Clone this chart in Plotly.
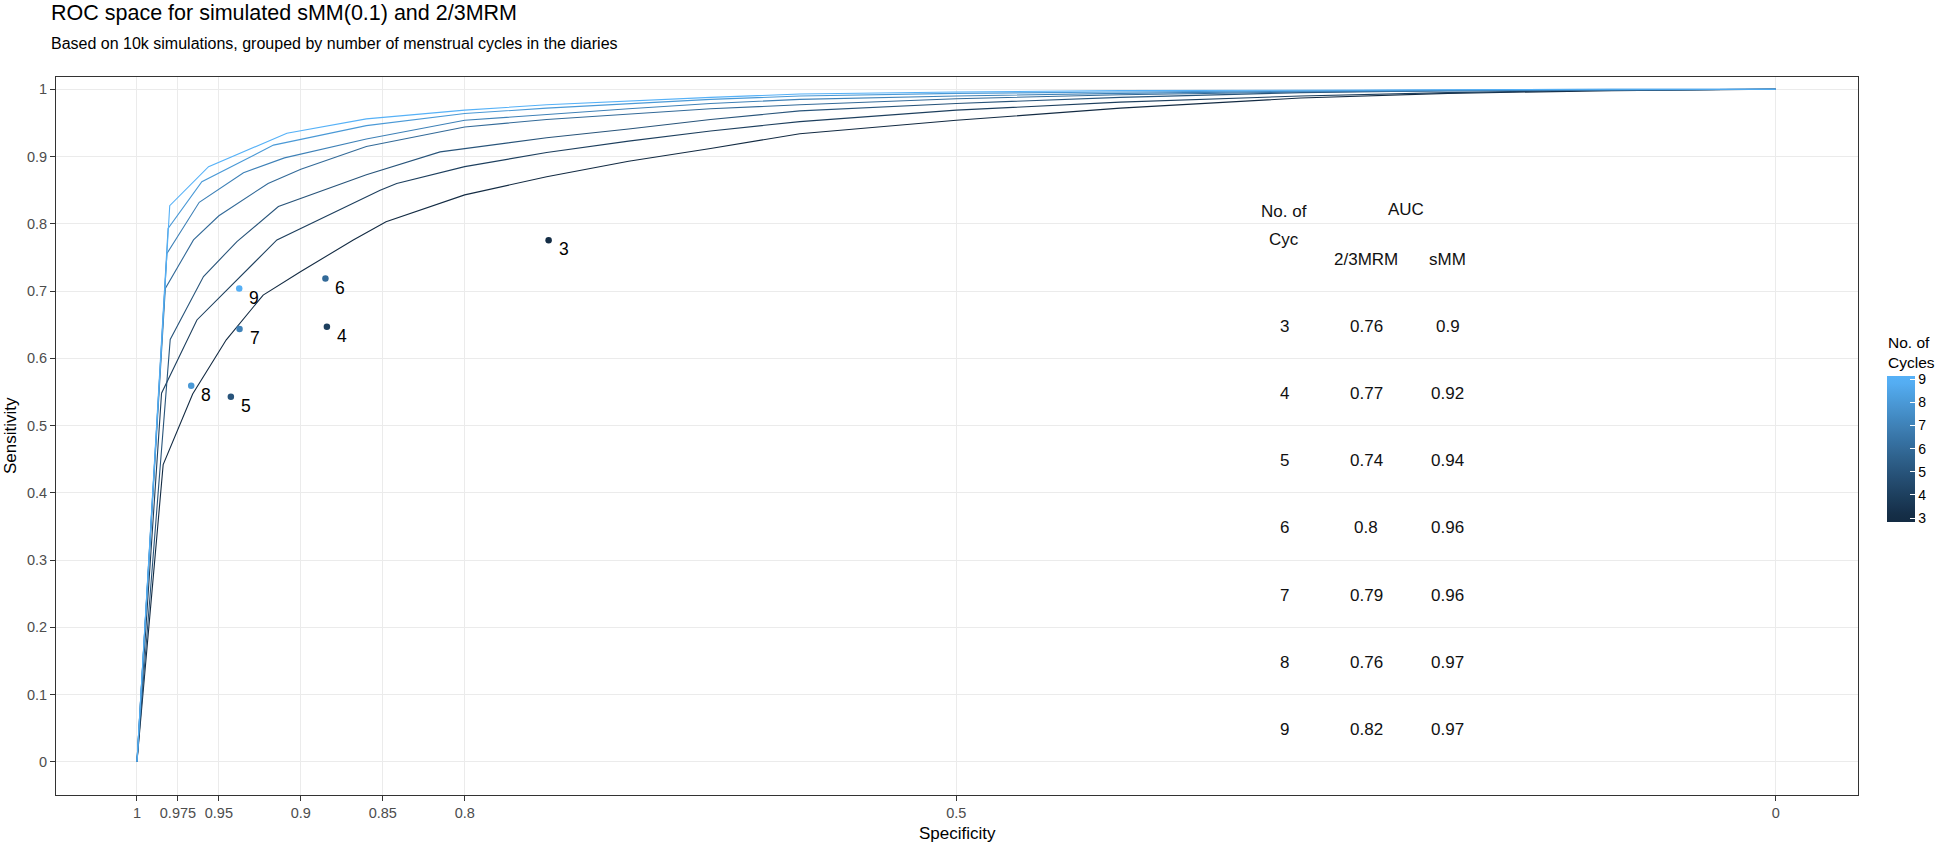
import plotly.graph_objects as go

# ---------------- data ----------------
cycles = [3, 4, 5, 6, 7, 8, 9]

# 2/3MRM single operating points (specificity, sensitivity)
mrm_spec = [0.7488, 0.8841, 0.9427, 0.8850, 0.9374, 0.9669, 0.9376]
mrm_sens = [0.7756, 0.6468, 0.5428, 0.7186, 0.6434, 0.5590, 0.7037]

# AUC table
auc_mrm = ["0.76", "0.77", "0.74", "0.8", "0.79", "0.76", "0.82"]
auc_smm = ["0.9", "0.92", "0.94", "0.96", "0.96", "0.97", "0.97"]

# sMM ROC curves per number of cycles
spec_c3 = [1.0, 0.984, 0.966, 0.9455, 0.923, 0.900, 0.868, 0.848, 0.80, 0.75, 0.70, 0.65, 0.5955, 0.50, 0.40, 0.29, 0.20, 0.10, 0.0]
sens_c3 = [0.0, 0.442, 0.547, 0.6275, 0.694, 0.729, 0.776, 0.803, 0.843, 0.870, 0.893, 0.912, 0.934, 0.954, 0.972, 0.987, 0.994, 0.998, 1.0]

spec_c4 = [1.0, 0.985, 0.9634, 0.9279, 0.9146, 0.8516, 0.8415, 0.80, 0.75, 0.70, 0.65, 0.5955, 0.50, 0.40, 0.29, 0.20, 0.10, 0.0]
sens_c4 = [0.0, 0.548, 0.657, 0.744, 0.776, 0.850, 0.860, 0.885, 0.906, 0.923, 0.938, 0.952, 0.969, 0.981, 0.990, 0.995, 0.999, 1.0]

spec_c5 = [1.0, 0.9797, 0.9594, 0.939, 0.9137, 0.86, 0.815, 0.80, 0.75, 0.70, 0.65, 0.5955, 0.50, 0.40, 0.29, 0.20, 0.10, 0.0]
sens_c5 = [0.0, 0.628, 0.7216, 0.7735, 0.8256, 0.873, 0.907, 0.912, 0.928, 0.941, 0.955, 0.968, 0.979, 0.988, 0.995, 0.998, 0.999, 1.0]

spec_c6 = [1.0, 0.9827, 0.9655, 0.95, 0.92, 0.90, 0.86, 0.80, 0.75, 0.70, 0.65, 0.5955, 0.50, 0.40, 0.29, 0.20, 0.10, 0.0]
sens_c6 = [0.0, 0.704, 0.776, 0.812, 0.860, 0.881, 0.915, 0.944, 0.955, 0.963, 0.971, 0.977, 0.986, 0.992, 0.996, 0.998, 0.999, 1.0]

spec_c7 = [1.0, 0.9817, 0.962, 0.935, 0.91, 0.86, 0.80, 0.75, 0.70, 0.65, 0.5955, 0.50, 0.40, 0.29, 0.20, 0.10, 0.0]
sens_c7 = [0.0, 0.756, 0.832, 0.876, 0.898, 0.926, 0.954, 0.963, 0.971, 0.979, 0.985, 0.990, 0.994, 0.997, 0.998, 0.999, 1.0]

spec_c8 = [1.0, 0.981, 0.9604, 0.9167, 0.86, 0.80, 0.75, 0.70, 0.65, 0.5955, 0.50, 0.40, 0.29, 0.20, 0.10, 0.0]
sens_c8 = [0.0, 0.793, 0.8627, 0.917, 0.946, 0.964, 0.972, 0.979, 0.985, 0.990, 0.994, 0.996, 0.998, 0.999, 1.0, 1.0]

spec_c9 = [1.0, 0.980, 0.9563, 0.9085, 0.86, 0.80, 0.75, 0.70, 0.65, 0.5955, 0.50, 0.40, 0.29, 0.20, 0.10, 0.0]
sens_c9 = [0.0, 0.827, 0.885, 0.9346, 0.956, 0.969, 0.977, 0.983, 0.988, 0.993, 0.996, 0.998, 0.999, 1.0, 1.0, 1.0]

x_tickvals = [1, 0.975, 0.95, 0.9, 0.85, 0.8, 0.5, 0]
x_ticktext = ["1", "0.975", "0.95", "0.9", "0.85", "0.8", "0.5", "0"]
y_tickvals = [0, 0.1, 0.2, 0.3, 0.4, 0.5, 0.6, 0.7, 0.8, 0.9, 1.0]
y_ticktext = ["0", "0.1", "0.2", "0.3", "0.4", "0.5", "0.6", "0.7", "0.8", "0.9", "1"]

curves = {
    3: (spec_c3, sens_c3), 4: (spec_c4, sens_c4), 5: (spec_c5, sens_c5),
    6: (spec_c6, sens_c6), 7: (spec_c7, sens_c7), 8: (spec_c8, sens_c8),
    9: (spec_c9, sens_c9),
}

# ---------------- colour gradient (ggplot default, Lab interpolation) ----------------
LOW, HIGH = "#132B43", "#56B1F7"


def _lin(c):
    return c / 12.92 if c <= 0.04045 else ((c + 0.055) / 1.055) ** 2.4


def _gam(c):
    c = max(0.0, min(1.0, c))
    return 12.92 * c if c <= 0.0031308 else 1.055 * c ** (1 / 2.4) - 0.055


def hex2lab(h):
    r, g, b = [_lin(int(h[i:i + 2], 16) / 255) for i in (1, 3, 5)]
    X = 0.4124 * r + 0.3576 * g + 0.1805 * b
    Y = 0.2126 * r + 0.7152 * g + 0.0722 * b
    Z = 0.0193 * r + 0.1192 * g + 0.9505 * b
    Xn, Yn, Zn = 0.95047, 1.0, 1.08883

    def f(t):
        return t ** (1 / 3) if t > 216 / 24389 else (24389 / 27 * t + 16) / 116

    fx, fy, fz = f(X / Xn), f(Y / Yn), f(Z / Zn)
    return 116 * fy - 16, 500 * (fx - fy), 200 * (fy - fz)


def lab2hex(L, a, b):
    fy = (L + 16) / 116
    fx = fy + a / 500
    fz = fy - b / 200

    def finv(t):
        return t ** 3 if t ** 3 > 216 / 24389 else (116 * t - 16) / (24389 / 27)

    X, Y, Z = 0.95047 * finv(fx), finv(fy), 1.08883 * finv(fz)
    r = 3.2406 * X - 1.5372 * Y - 0.4986 * Z
    g = -0.9689 * X + 1.8758 * Y + 0.0415 * Z
    bb = 0.0557 * X - 0.2040 * Y + 1.0570 * Z
    return "#%02x%02x%02x" % tuple(int(round(_gam(c) * 255)) for c in (r, g, bb))


L0, L1 = hex2lab(LOW), hex2lab(HIGH)


def grad(t):
    t = max(0.0, min(1.0, t))
    return lab2hex(*[L0[i] + (L1[i] - L0[i]) * t for i in range(3)])


def col(v):
    return grad((v - 3) / 6)


CMIN, CMAX = 3 - 6 / 38, 9 + 6 / 38
colorscale = []
N = 20
for i in range(N + 1):
    p = i / N
    v = CMIN + p * (CMAX - CMIN)
    colorscale.append([p, col(v)])

FONT = "Liberation Sans, Arial, sans-serif"

fig = go.Figure()

for c in cycles:
    sx, sy = curves[c]
    fig.add_trace(go.Scatter(
        x=sx, y=sy, mode="lines", line=dict(color=col(c), width=1.1),
        showlegend=False, hoverinfo="skip"))

fig.add_trace(go.Scatter(
    x=mrm_spec, y=mrm_sens, mode="markers",
    marker=dict(size=6.5, color=cycles, colorscale=colorscale, cmin=CMIN, cmax=CMAX,
                showscale=True,
                colorbar=dict(
                    x=1.0155, xanchor="left", xpad=0, ypad=0,
                    y=0.4823, yanchor="middle",
                    lenmode="pixels", len=146, thickness=28,
                    outlinewidth=0, ticks="inside", ticklen=5, tickcolor="white",
                    tickwidth=1,
                    tickvals=cycles, ticktext=[str(c) for c in cycles],
                    tickfont=dict(size=14, color="#000000", family=FONT))),
    showlegend=False))

annotations = []
# point labels
for c, sx, sy in zip(cycles, mrm_spec, mrm_sens):
    annotations.append(dict(x=sx, y=sy, text=str(c), showarrow=False, xshift=15, yshift=-9,
                            font=dict(size=17.5, color="#000000", family=FONT)))

# AUC table
tfont = dict(size=17, color="#111111", family=FONT)
annotations += [
    dict(x=0.30, y=0.818, text="No. of", showarrow=False, font=tfont),
    dict(x=0.30, y=0.777, text="Cyc", showarrow=False, font=tfont),
    dict(x=0.2256, y=0.822, text="AUC", showarrow=False, font=tfont),
    dict(x=0.25, y=0.7464, text="2/3MRM", showarrow=False, font=tfont),
    dict(x=0.20, y=0.7464, text="sMM", showarrow=False, font=tfont),
]
for i, c in enumerate(cycles):
    yy = 0.648 - 0.1 * i
    annotations.append(dict(x=0.30, y=yy, text=str(c), showarrow=False, font=tfont))
    annotations.append(dict(x=0.25, y=yy, text=auc_mrm[i], showarrow=False, font=tfont))
    annotations.append(dict(x=0.20, y=yy, text=auc_smm[i], showarrow=False, font=tfont))

PH = 795.5 - 77.0
# titles
annotations += [
    dict(xref="paper", yref="paper", x=-0.004, y=1 + (77 - 13) / PH, xanchor="left", yanchor="middle",
         text="ROC space for simulated sMM(0.1) and 2/3MRM", showarrow=False,
         font=dict(size=21.5, color="#000000", family=FONT)),
    dict(xref="paper", yref="paper", x=-0.004, y=1 + (77 - 43) / PH, xanchor="left", yanchor="middle",
         text="Based on 10k simulations, grouped by number of menstrual cycles in the diaries",
         showarrow=False, font=dict(size=16, color="#000000", family=FONT)),
    dict(xref="paper", yref="paper", x=0.5, y=-(834 - 795.5) / PH, xanchor="center", yanchor="middle",
         text="Specificity", showarrow=False, font=dict(size=17, color="#000000", family=FONT)),
    dict(xref="paper", yref="paper", x=(10 - 56) / 1803, y=0.5, xanchor="center", yanchor="middle",
         text="Sensitivity", textangle=-90, showarrow=False,
         font=dict(size=17, color="#000000", family=FONT)),
    dict(xref="paper", yref="paper", x=1.0155, y=(795.5 - 353) / PH, xanchor="left", yanchor="middle",
         text="No. of<br>Cycles", align="left", showarrow=False,
         font=dict(size=15.5, color="#000000", family=FONT)),
]

fig.update_layout(
    width=1943, height=845,
    margin=dict(l=56, r=84, t=77, b=49.5),
    paper_bgcolor="white", plot_bgcolor="white",
    font=dict(family=FONT),
    annotations=annotations,
    xaxis=dict(range=[1.0494, -0.0502], tickmode="array", tickvals=x_tickvals, ticktext=x_ticktext,
               showgrid=True, gridcolor="#EBEBEB", gridwidth=1, zeroline=False,
               showline=True, mirror=True, linecolor="#333333", linewidth=1,
               ticks="outside", ticklen=5, tickcolor="#333333", tickwidth=1,
               tickfont=dict(size=14.5, color="#4D4D4D", family=FONT)),
    yaxis=dict(range=[-0.0494, 1.0183], tickmode="array", tickvals=y_tickvals, ticktext=y_ticktext,
               showgrid=True, gridcolor="#EBEBEB", gridwidth=1, zeroline=False,
               showline=True, mirror=True, linecolor="#333333", linewidth=1,
               ticks="outside", ticklen=5, tickcolor="#333333", tickwidth=1,
               tickfont=dict(size=14.5, color="#4D4D4D", family=FONT)),
)

fig.write_html("out.html",
               config={"displayModeBar": False},
               post_script="document.body.style.margin='0';document.body.style.overflow='hidden';")
